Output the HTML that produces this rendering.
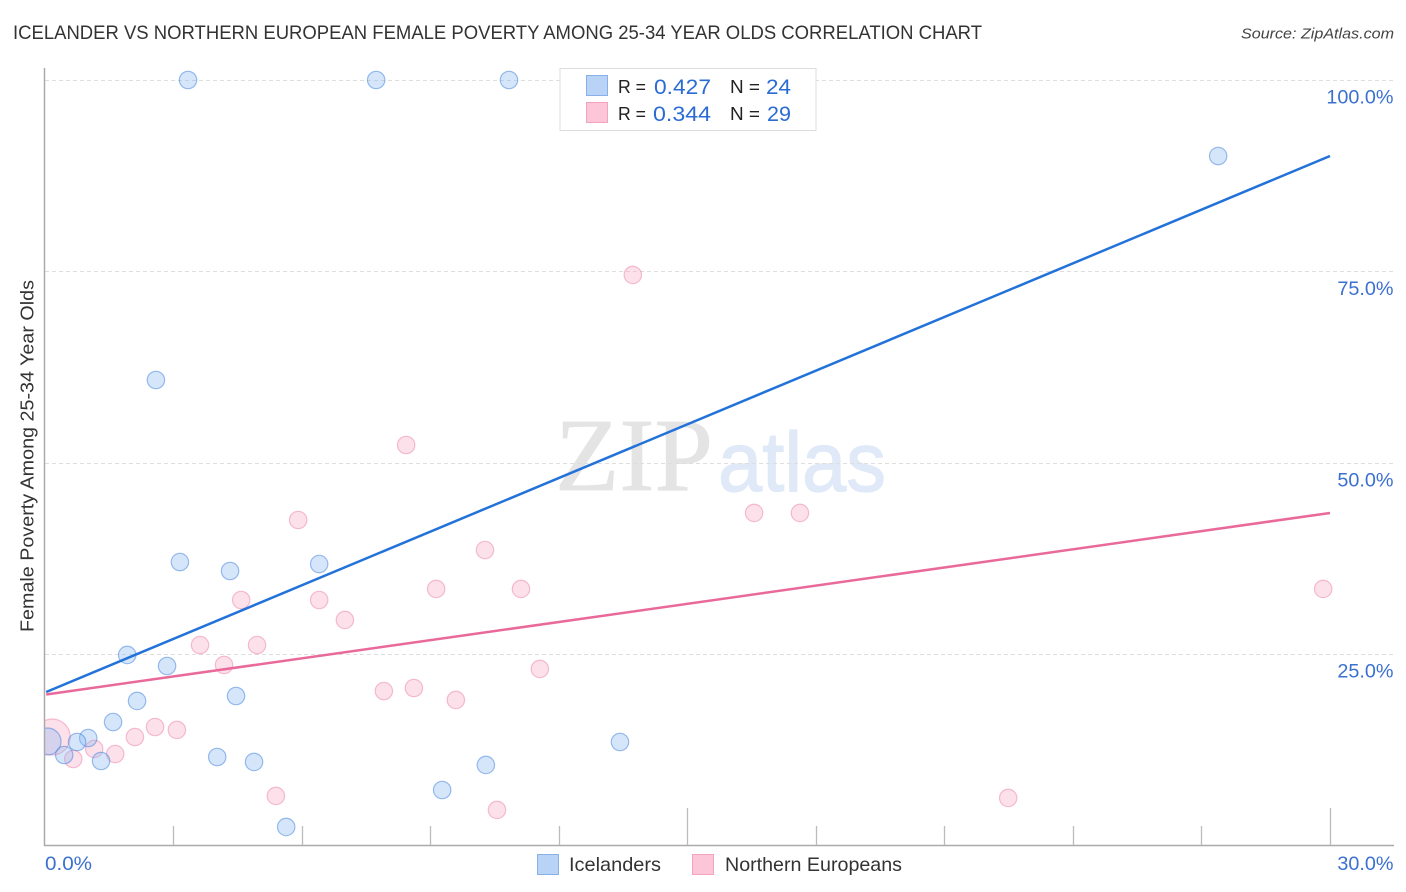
<!DOCTYPE html>
<html>
<head>
<meta charset="utf-8">
<title>Icelander vs Northern European Female Poverty Correlation Chart</title>
<style>
html,body{margin:0;padding:0;background:#fff;width:1406px;height:892px;overflow:hidden}
svg{display:block;font-family:"Liberation Sans",sans-serif}
</style>
</head>
<body>
<svg id="chart" xmlns="http://www.w3.org/2000/svg" width="1406" height="892" viewBox="0 0 1406 892">
  <rect x="0" y="0" width="1406" height="892" fill="#fff"/>
  <text x="13" y="39" font-size="19.5" fill="#333" textLength="969" lengthAdjust="spacingAndGlyphs">ICELANDER VS NORTHERN EUROPEAN FEMALE POVERTY AMONG 25-34 YEAR OLDS CORRELATION CHART</text>
  <text x="1241" y="38.5" font-size="15" font-style="italic" fill="#444" textLength="153" lengthAdjust="spacingAndGlyphs">Source: ZipAtlas.com</text>
  <text x="555" y="490" font-size="104" fill="#e4e4e4" stroke="#e4e4e4" stroke-width="0.8" style="font-family:'Liberation Serif',serif" textLength="158" lengthAdjust="spacingAndGlyphs">ZIP</text>
  <text x="718" y="491" font-size="84" fill="#dfe9f8" stroke="#dfe9f8" stroke-width="1.2" textLength="168" lengthAdjust="spacingAndGlyphs">atlas</text>
  <g id="grid-layer"></g>
  <g id="point-layer"></g>
  <rect x="0" y="60" width="44" height="790" fill="#fff"/>
  <g id="axis-layer"></g>
  <g id="line-layer"></g>
  <text transform="translate(33.5,632) rotate(-90)" x="0" y="0" font-size="18" fill="#333" textLength="352" lengthAdjust="spacingAndGlyphs">Female Poverty Among 25-34 Year Olds</text>

  <g>
    <rect x="560" y="68.500" width="256" height="62" fill="#fff" stroke="#ddd" stroke-width="1"/>
    <rect x="586.500" y="75.500" width="21" height="20" fill="#b9d3f7" stroke="#88b0e8" stroke-width="1"/>
    <rect x="586.500" y="102.500" width="21" height="20" fill="#fcc6d8" stroke="#f3a3bf" stroke-width="1"/>
    <text x="618" y="93" font-size="18.500" fill="#222" textLength="28" lengthAdjust="spacingAndGlyphs">R =</text>
    <text x="654" y="94" font-size="21" fill="#2b6cd4" textLength="57" lengthAdjust="spacingAndGlyphs">0.427</text>
    <text x="730" y="93" font-size="18.500" fill="#222" textLength="30" lengthAdjust="spacingAndGlyphs">N =</text>
    <text x="766" y="94" font-size="21" fill="#2b6cd4" textLength="25" lengthAdjust="spacingAndGlyphs">24</text>
    <text x="618" y="120" font-size="18.500" fill="#222" textLength="28" lengthAdjust="spacingAndGlyphs">R =</text>
    <text x="653" y="121" font-size="21" fill="#2b6cd4" textLength="58" lengthAdjust="spacingAndGlyphs">0.344</text>
    <text x="730" y="120" font-size="18.500" fill="#222" textLength="30" lengthAdjust="spacingAndGlyphs">N =</text>
    <text x="767" y="121" font-size="21" fill="#2b6cd4" textLength="24" lengthAdjust="spacingAndGlyphs">29</text>
  </g>

  <g>
    <rect x="537.500" y="854.500" width="21" height="20" fill="#b9d3f7" stroke="#88b0e8" stroke-width="1"/>
    <text x="569" y="871" font-size="19.500" fill="#333" textLength="92" lengthAdjust="spacingAndGlyphs">Icelanders</text>
    <rect x="692.500" y="854.500" width="21" height="20" fill="#fcc6d8" stroke="#f3a3bf" stroke-width="1"/>
    <text x="725" y="871" font-size="19.500" fill="#333" textLength="177" lengthAdjust="spacingAndGlyphs">Northern Europeans</text>
  </g>
</svg>

<script>
const xTickValues = [0, 3, 6, 9, 12, 15, 18, 21, 24, 27, 30];
const xEdgeLabels = ['0.0%', '30.0%'];
const yGridValues = [25, 50, 75, 100];
const yTickLabels = ['25.0%', '50.0%', '75.0%', '100.0%'];

const icelanderX = [3.35, 7.74, 10.84, 27.39, 2.60, 3.16, 4.33, 6.41, 1.93, 2.86, 2.16, 4.47, 1.60, 1.02, 0.76, 0.07, 0.46, 1.32, 4.03, 4.89, 13.43, 10.30, 9.28, 5.64];
const icelanderY = [100, 100, 100, 90.07, 60.81, 37.03, 35.86, 36.77, 24.89, 23.45, 18.88, 19.53, 16.13, 14.04, 13.52, 13.59, 11.82, 11.04, 11.56, 10.91, 13.52, 10.52, 7.25, 2.42];
const icelanderWeight = [1, 1, 1, 1, 1, 1, 1, 1, 1, 1, 1, 1, 1, 1, 1, 2.4, 1, 1, 1, 1, 1, 1, 1, 1];

const europeanX = [13.73, 8.44, 5.92, 10.28, 16.56, 17.63, 9.14, 11.12, 29.84, 4.59, 6.41, 7.01, 3.63, 4.96, 4.19, 11.56, 7.92, 8.62, 9.60, 2.58, 3.09, 2.11, 1.16, 1.65, 0.67, 0.18, 5.40, 22.49, 10.56];
const europeanY = [74.53, 52.32, 42.52, 38.60, 43.44, 43.44, 33.51, 33.51, 33.51, 32.07, 32.07, 29.46, 26.19, 26.19, 23.58, 23.06, 20.18, 20.57, 19.01, 15.48, 15.09, 14.17, 12.61, 11.95, 11.30, 14.17, 6.47, 6.21, 4.64];
const europeanWeight = [1, 1, 1, 1, 1, 1, 1, 1, 1, 1, 1, 1, 1, 1, 1, 1, 1, 1, 1, 1, 1, 1, 1, 1, 1, 4.3, 1, 1, 1];

const icelanderTrendX = [0.04, 30];
const icelanderTrendY = [20.05, 90.07];
const europeanTrendX = [0.04, 30];
const europeanTrendY = [19.73, 43.44];

const NS = 'http://www.w3.org/2000/svg';
const plotLeft = 44.5, plotRight = 1330, plotBottom = 845.5, plotTop = 80;
function xScale(v) { return plotLeft + (v / 30) * (plotRight - plotLeft); }
function yScale(v) { return plotBottom - (v / 100) * (plotBottom - plotTop); }
function radiusScale(w) { return 8.7 * Math.sqrt(w); }
function make(tag, attrs, parent) {
  const el = document.createElementNS(NS, tag);
  for (const k in attrs) el.setAttribute(k, attrs[k]);
  parent.appendChild(el);
  return el;
}

const gridLayer = document.getElementById('grid-layer');
const axisLayer = document.getElementById('axis-layer');
const pointLayer = document.getElementById('point-layer');
const lineLayer = document.getElementById('line-layer');

yGridValues.forEach(function (v, i) {
  const gy = Math.round(yScale(v)) + 0.5;
  const g = make('line', { x1: 45, x2: 1394, y1: gy, y2: gy, stroke: '#dedede', 'stroke-width': 1, 'stroke-dasharray': '4 3' }, gridLayer);
  
  
  const t = make('text', { x: 1393.5, y: yScale(v) + 23.5, 'text-anchor': 'end', 'font-size': 19.8, fill: '#3b70d0' }, axisLayer);
  
  
  t.textContent = yTickLabels[i];
});

const yAxis = make('line', { x1: 44.5, x2: 44.5, y1: 68, y2: 846, stroke: '#aaa', 'stroke-width': 1.5 }, axisLayer);


const xAxis = make('line', { x1: 44, x2: 1394, y1: 845.5, y2: 845.5, stroke: '#aaa', 'stroke-width': 1.5 }, axisLayer);



xTickValues.forEach(function (v, i) {
  if (i === 0) return;
  const tx = Math.round(xScale(v)) + 0.5;
  const tall = i === 5 || i === 10;
  const tick = make('line', { x1: tx, x2: tx, y1: tall ? 808 : 826, y2: 845, stroke: '#bbb', 'stroke-width': 1.3 }, axisLayer);
  
  
});

const xLabelStart = make('text', { x: 45, y: 870, 'font-size': 19.8, fill: '#3b70d0', textLength: 47, lengthAdjust: 'spacingAndGlyphs' }, axisLayer);


xLabelStart.textContent = xEdgeLabels[0];
const xLabelEnd = make('text', { x: 1393.5, y: 870, 'text-anchor': 'end', 'font-size': 19.8, fill: '#3b70d0' }, axisLayer);


xLabelEnd.textContent = xEdgeLabels[1];

europeanX.forEach(function (v, i) {
  const c = make('circle', { cx: xScale(v), cy: yScale(europeanY[i]), r: radiusScale(europeanWeight[i]), fill: 'rgba(248,170,196,0.36)', stroke: 'rgba(236,130,170,0.5)', 'stroke-width': 1.2 }, pointLayer);
  
  
});
icelanderX.forEach(function (v, i) {
  const c = make('circle', { cx: xScale(v), cy: yScale(icelanderY[i]), r: radiusScale(icelanderWeight[i]), fill: 'rgba(140,185,240,0.36)', stroke: 'rgba(60,125,220,0.5)', 'stroke-width': 1.2 }, pointLayer);
  
  
});

const blueLine = make('line', { x1: xScale(icelanderTrendX[0]), y1: yScale(icelanderTrendY[0]), x2: xScale(icelanderTrendX[1]), y2: yScale(icelanderTrendY[1]), stroke: '#2272d9', 'stroke-width': 2.5 }, lineLayer);


const pinkLine = make('line', { x1: xScale(europeanTrendX[0]), y1: yScale(europeanTrendY[0]), x2: xScale(europeanTrendX[1]), y2: yScale(europeanTrendY[1]), stroke: '#e9699b', 'stroke-width': 2.5 }, lineLayer);


</script>
</body>
</html>
